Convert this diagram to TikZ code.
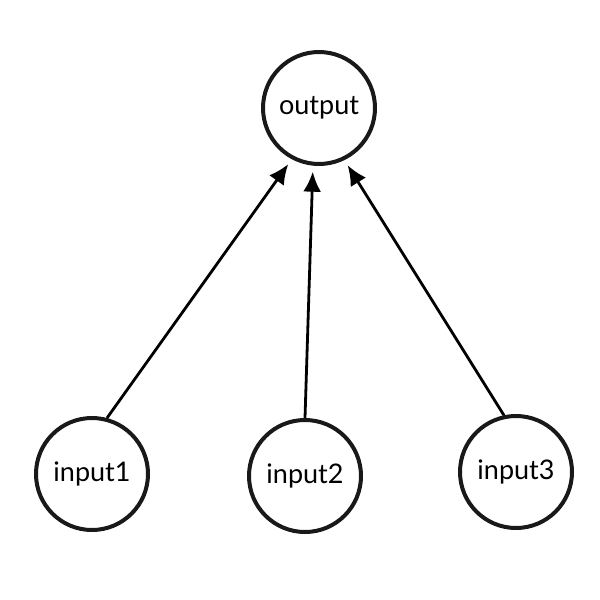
\documentclass[tikz,border=0pt]{standalone}
\usepackage{fontspec}
\setmainfont{Lato}
\usetikzlibrary{arrows.meta}
\begin{document}
\begin{tikzpicture}[x=1pt,y=-1pt,
  neuron/.style={circle,draw=black!90,line width=4pt,minimum size=112pt,inner sep=0pt,font=\fontsize{27}{32}\selectfont},
  conn/.style={line width=2.8pt,-{Latex[length=20pt,width=18pt]},shorten >=6pt}]
\useasboundingbox (0,0) rectangle (600,600);
\node[neuron] (out) at (319,108) {output};
\node[neuron] (i1) at (92,474) {input1};
\node[neuron] (i2) at (305,476) {input2};
\node[neuron] (i3) at (516,472) {input3};
\draw[conn] (i1.75) -- (out.242);
\draw[conn] (i2.90) -- (out.264);
\draw[conn] (i3.102) -- (out.296);
\end{tikzpicture}
\end{document}
